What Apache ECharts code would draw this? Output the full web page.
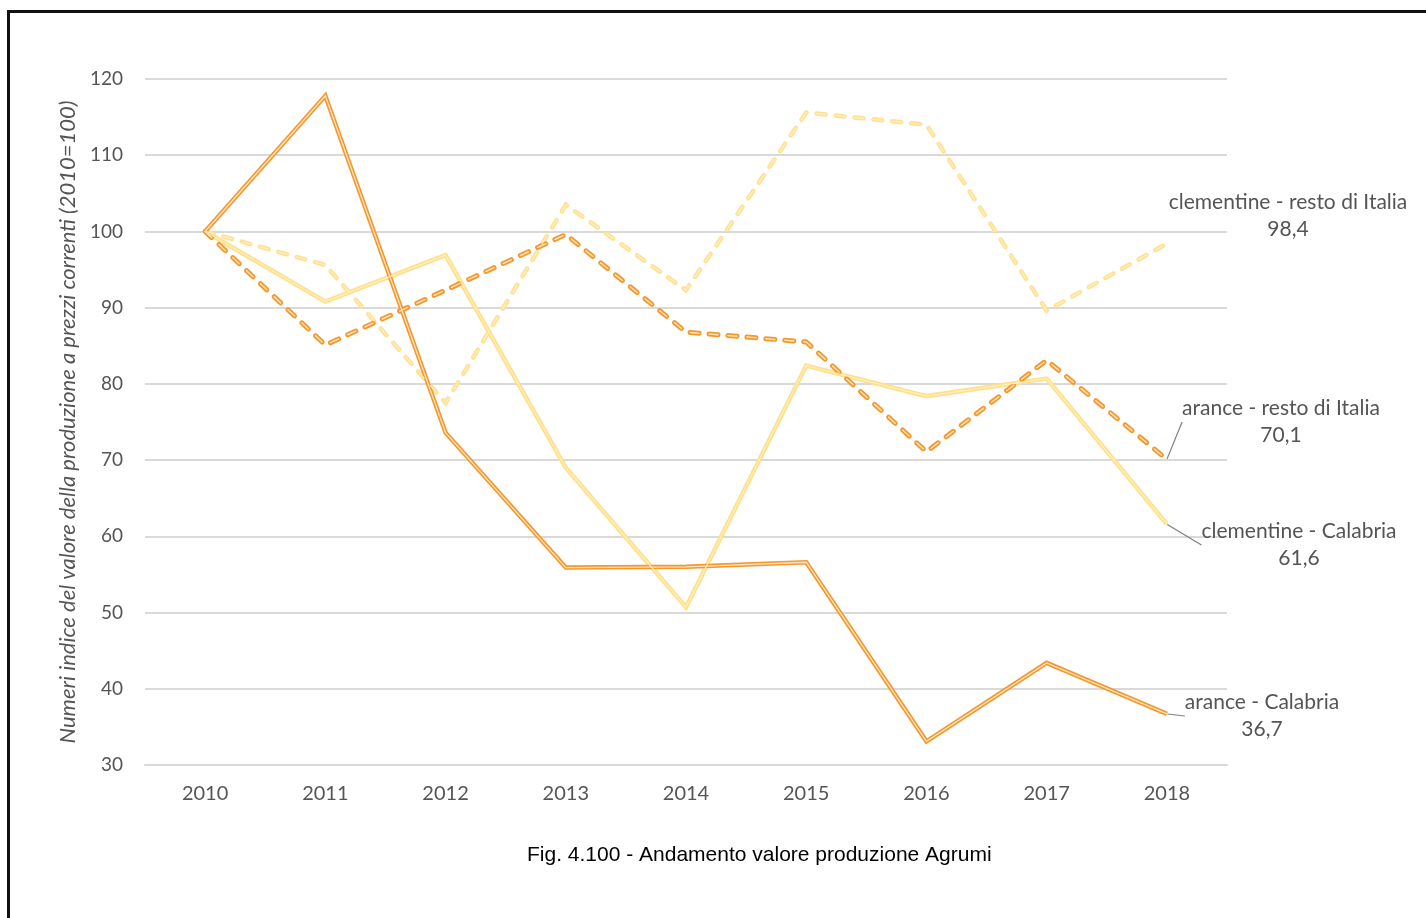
<!DOCTYPE html>
<html>
<head>
<meta charset="utf-8">
<script src="https://cdn.jsdelivr.net/npm/echarts@6/dist/echarts.min.js"></script>
<style>
  html, body { margin: 0; padding: 0; background: #fff; }
  #frame { position: absolute; left: 7px; top: 10px; width: 1419px; height: 908px;
           border-top: 3px solid #111; border-left: 3px solid #111; box-sizing: border-box; }
  #main { position: absolute; left: 0; top: 0; width: 1426px; height: 918px; }
</style>
</head>
<body>
<div id="frame"></div>
<div id="main"></div>
<script>
// anni
const years = ['2010', '2011', '2012', '2013', '2014', '2015', '2016', '2017', '2018']

// numeri indice (2010=100)
const clementineResto = [100, 95.6, 77.5, 103.5, 92.3, 115.6, 114.0, 89.6, 98.4]
const clementineCalabria = [100, 90.8, 96.9, 69.0, 50.7, 82.4, 78.4, 80.7, 61.6]
const aranceResto = [100, 85.1, 92.3, 99.6, 86.8, 85.5, 71.1, 83.1, 70.1]
const aranceCalabria = [100, 117.8, 73.6, 55.9, 56.0, 56.6, 33.1, 43.4, 36.7]

const yTicks = [30, 40, 50, 60, 70, 80, 90, 100, 110, 120]

const textColor = '#555555'
const font = 'Lato, "Open Sans", sans-serif'

// only the last point gets a label
function withEndLabel (arr) {
  return arr.map((v, i) => i === arr.length - 1 ? { value: v, label: { show: true } } : v)
}

function labelFmt (p) {
  return p.seriesName + '\n' + String(p.value).replace('.', ',')
}

function mainSeries (name, data, color, width, dash, labelPos, showLine) {
  return {
    name: name,
    type: 'line',
    data: withEndLabel(data),
    symbol: 'circle',
    symbolSize: 1,
    showSymbol: true,
    itemStyle: { color: 'rgba(0,0,0,0)' },
    z: 2,
    lineStyle: { color: color, width: width, type: dash || 'solid', cap: dash ? 'round' : 'butt', join: 'miter' },
    label: {
      show: false,
      formatter: labelFmt,
      color: textColor,
      fontFamily: font,
      fontSize: 21,
      lineHeight: 27,
      align: 'center'
    },
    labelLayout: { x: labelPos[0], y: labelPos[1], align: 'center', verticalAlign: 'middle' },
    labelLine: { show: showLine, lineStyle: { color: '#7f7f7f', width: 1.2 } },
    emphasis: { disabled: true }
  }
}

function innerSeries (name, data, color, width, dash) {
  return {
    name: name + ' (inner)',
    type: 'line',
    data: data,
    symbol: 'none',
    silent: true,
    z: 3,
    lineStyle: { color: color, width: width, type: dash || 'solid', cap: dash ? 'round' : 'butt', join: 'miter' },
    emphasis: { disabled: true }
  }
}

const dash = [9, 10]

const option = {
  animation: false,
  title: {
    text: 'Fig. 4.100 - Andamento valore produzione Agrumi',
    left: 522,
    top: 840,
    textStyle: { fontFamily: '"Liberation Sans", Arial, sans-serif', fontSize: 21, fontWeight: 'normal', color: '#000' }
  },
  grid: { left: 145, right: 199, top: 79, bottom: 153, containLabel: false },
  xAxis: {
    type: 'category',
    data: years,
    boundaryGap: true,
    axisLine: { show: true, lineStyle: { color: '#d9d9d9', width: 2 } },
    axisTick: { show: false },
    axisLabel: { color: textColor, fontFamily: font, fontSize: 20, margin: 19 }
  },
  yAxis: {
    type: 'value',
    min: yTicks[0],
    max: yTicks[yTicks.length - 1],
    interval: 10,
    name: 'Numeri indice del valore della produzione a prezzi correnti (2010=100)',
    nameLocation: 'middle',
    nameGap: 64,
    nameRotate: 90,
    nameTextStyle: { color: textColor, fontFamily: font, fontSize: 22, fontStyle: 'italic' },
    axisLine: { show: false },
    axisTick: { show: false },
    axisLabel: { color: textColor, fontFamily: font, fontSize: 19, margin: 22 },
    splitLine: { lineStyle: { color: '#d9d9d9', width: 2 } }
  },
  series: [
    mainSeries('clementine - resto di Italia', clementineResto, '#FFE193', 4.5, dash, [1288, 216], false),
    innerSeries('clementine - resto di Italia', clementineResto, '#FFEFC4', 1.2, dash),
    mainSeries('clementine - Calabria', clementineCalabria, '#FFE08A', 4.5, null, [1299, 545], true),
    innerSeries('clementine - Calabria', clementineCalabria, '#FFEFC0', 1.2, null),
    mainSeries('arance - resto di Italia', aranceResto, '#F5982C', 5, dash, [1281, 422], true),
    innerSeries('arance - resto di Italia', aranceResto, '#FDE1BD', 1.5, dash),
    mainSeries('arance - Calabria', aranceCalabria, '#F5982C', 4.5, null, [1262, 716], true),
    innerSeries('arance - Calabria', aranceCalabria, '#FDE4C4', 1.3, null)
  ]
}

const chart = echarts.init(document.getElementById('main'))
chart.setOption(option)
</script>
</body>
</html>
